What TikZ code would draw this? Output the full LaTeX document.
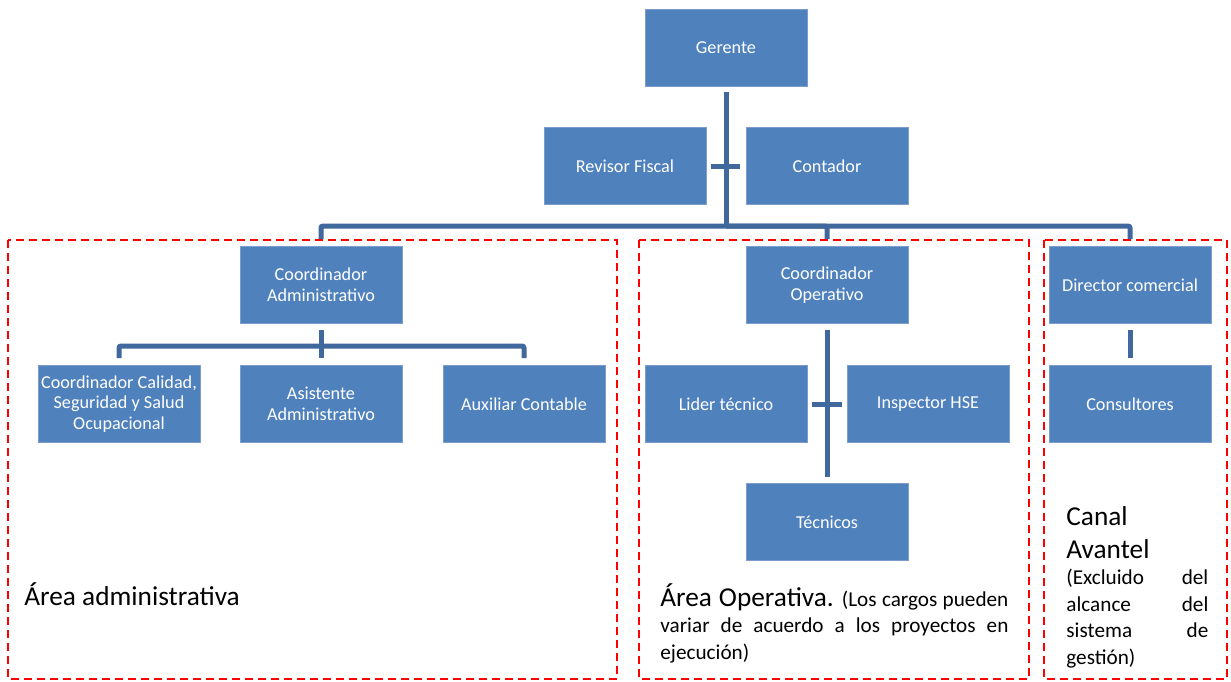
\documentclass[tikz,border=0pt]{standalone}
\usepackage{fontspec}
\setmainfont{Carlito}
\definecolor{boxblue}{RGB}{79,129,189}
\definecolor{boxedge}{RGB}{125,158,205}
\definecolor{lineblue}{RGB}{64,104,156}

\begin{document}
\begin{tikzpicture}[x=.5pt, y=-.5pt,
	box/.style={draw=boxedge, line width=.4pt, fill=boxblue, text=white, minimum width=81pt, minimum height=38.5pt, inner sep=.5pt, align=center, font=\fontsize{9.1}{10.4}\selectfont},
	conn/.style={draw=lineblue, line width=2.5pt, rounded corners=1pt},
	area/.style={draw=red, line width=1pt, dash pattern=on 4pt off 2.5pt}]
	\useasboundingbox (0, 0) rectangle (1231, 681);

		% areas
		\draw[area] (8, 240) rectangle (617, 679);
		\draw[area] (639, 240) rectangle (1029, 679);
		\draw[area] (1044, 240) rectangle (1227, 679);

		% top
		\node[box] (gerente) at(726, 48){Gerente};
		\node[box] (rfis) at(625, 166){Revisor Fiscal};
		\node[box] (cont) at(827, 166){Contador};

		% coordinators
		\node[box] (cadm) at(321, 285){Coordinador\\Administrativo};
		\node[box] (cope) at(827, 285){Coordinador\\Operativo};
		\node[box] (dcom) at(1130, 285){Director comercial};

		% area administrativa
		\node[box] (ccal) at(119, 404){Coordinador Calidad,\\Seguridad y Salud\\Ocupacional};
		\node[box] (aadm) at(321, 404){Asistente\\Administrativo};
		\node[box] (aaux) at(524, 404){Auxiliar Contable};

		% area operativa
		\node[box] (lider) at(726, 404){Lider técnico};
		\node[box] (insp) at(928, 404){Inspector HSE};
		\node[box] (tecn) at(827, 522){Técnicos};

		% canal
		\node[box] (cons) at(1130, 404){Consultores};

		% connectors
		\coordinate (topbus) at(726, 226);
		\draw[conn, shorten <=2.5pt] (gerente.south) to (topbus);
		\draw[conn, shorten <=2.5pt, shorten >=3pt] (rfis.east) to (cont.west);
		\draw[conn, shorten >=3.5pt] (topbus) -| (cadm.north);
		\draw[conn, shorten >=3.5pt] (topbus) -| (cope.north);
		\draw[conn, shorten >=3.5pt] (topbus) -| (dcom.north);

		\coordinate (admbus) at(321, 346);
		\draw[conn, shorten <=3pt] (cadm.south) to (admbus);
		\draw[conn, shorten >=3.5pt] (admbus) -| (ccal.north);
		\draw[conn, shorten >=3.5pt] (admbus) -| (aadm.north);
		\draw[conn, shorten >=3.5pt] (admbus) -| (aaux.north);

		\draw[conn, shorten <=3pt, shorten >=3pt] (cope.south) to (tecn.north);
		\draw[conn, shorten <=2.5pt, shorten >=2.5pt] (lider.east) to (insp.west);

		\draw[conn, shorten <=3pt, shorten >=3.5pt] (dcom.south) to (cons.north);

		% area labels
		\node[anchor=base west, inner sep=0, font=\fontsize{13.65}{16.5}\selectfont] (admlbl) at(24, 605){Área administrativa};
		\node[anchor=base west, inner sep=0, text width=174pt, align=justify, font=\fontsize{10.6}{13.3}\selectfont] (oplbl) at(660, 606){\tolerance=10000\hyphenpenalty=10000{\fontsize{13.65}{16.5}\selectfont Área Operativa.} (Los cargos pueden\linebreak variar de acuerdo a los proyectos en\linebreak ejecución)};
		\node[anchor=base west, inner sep=0, text width=71pt, align=left, font=\fontsize{10.6}{13.3}\selectfont] (canlbl) at(1066, 525){{\fontsize{13.65}{16.5}\selectfont Canal\\Avantel\par}(Excluido\hfill del\\alcance\hfill del\\sistema\hfill de\\gestión)};
	\end{tikzpicture}
\end{document}
